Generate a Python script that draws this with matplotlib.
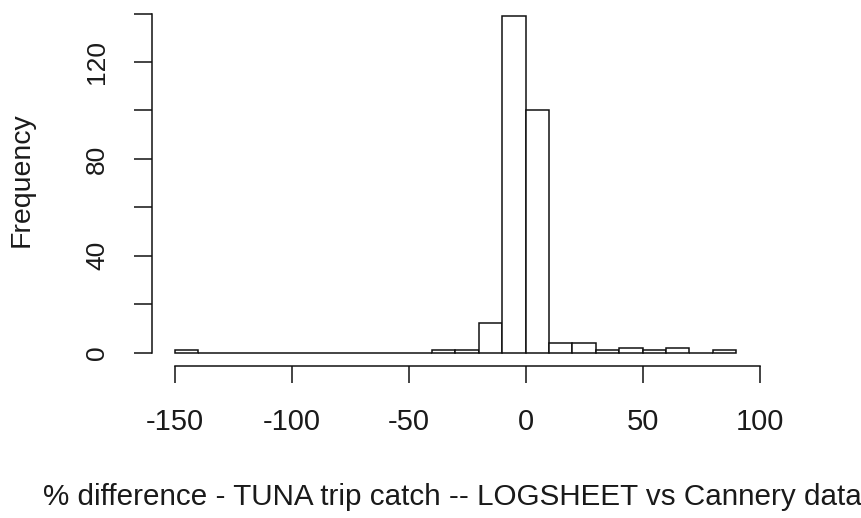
import matplotlib
matplotlib.use("Agg")
import matplotlib.pyplot as plt
import numpy as np

plt.rcParams['font.family'] = ['Liberation Sans', 'DejaVu Sans']

# Histogram of % difference, 10-unit bins from -150 to 90
bin_edges = list(range(-150, 100, 10))
counts = [1, 0, 0, 0, 0, 0, 0, 0, 0, 0, 0, 1, 1, 12, 139, 100, 4, 4, 1, 2, 1, 2, 0, 1]

x_ticks = [-150, -100, -50, 0, 50, 100]
y_ticks = [0, 20, 40, 60, 80, 100, 120, 140]
y_tick_labels = ['0', '', '40', '', '80', '', '120', '']

W, H = 862, 518
fig = plt.figure(figsize=(W / 100, H / 100), dpi=100)
ax = fig.add_axes([152.3 / W, 1 - 366 / H, (760.1 - 152.3) / W, (366 - 2.6) / H])

lefts = np.array(bin_edges[:-1])
widths = np.diff(bin_edges)
ax.bar(lefts, counts, width=widths, align='edge', facecolor='white',
       edgecolor='#111111', linewidth=1.1)

ymax = max(counts)
xr = bin_edges[-1] - bin_edges[0]
ax.set_xlim(bin_edges[0] - 0.04 * xr, bin_edges[-1] + 0.04 * xr + 0.6)
ax.set_ylim(-0.04 * ymax, ymax * 1.04)

for s in ('top', 'right'):
    ax.spines[s].set_visible(False)
ax.spines['left'].set_bounds(0, 140)
ax.spines['bottom'].set_bounds(-150, 100)
ax.spines['left'].set_linewidth(1.1)
ax.spines['bottom'].set_linewidth(1.1)
ax.spines['left'].set_color('#111111')
ax.spines['bottom'].set_color('#111111')

ax.set_xticks(x_ticks)
ax.set_xticklabels([str(v) for v in x_ticks])
ax.set_yticks(y_ticks)
ax.set_yticklabels(y_tick_labels, rotation=90, va='center')
ax.tick_params(axis='x', length=12.5, width=1.1, pad=18, labelsize=21, colors='#111111',
               labelcolor='#1a1a1a')
ax.tick_params(axis='y', length=13, width=1.1, pad=18, labelsize=19, colors='#111111',
               labelcolor='#1a1a1a')

fig.text(22 / W, 1 - 180 / H, 'Frequency', rotation=90, ha='center', va='center',
         fontsize=20.5, color='#1a1a1a')
fig.text(452 / W, 1 - 497 / H, '% difference - TUNA trip catch -- LOGSHEET vs Cannery data',
         ha='center', va='center', fontsize=21.3, color='#1a1a1a')

fig.savefig('out.png', dpi=100, facecolor='white')
